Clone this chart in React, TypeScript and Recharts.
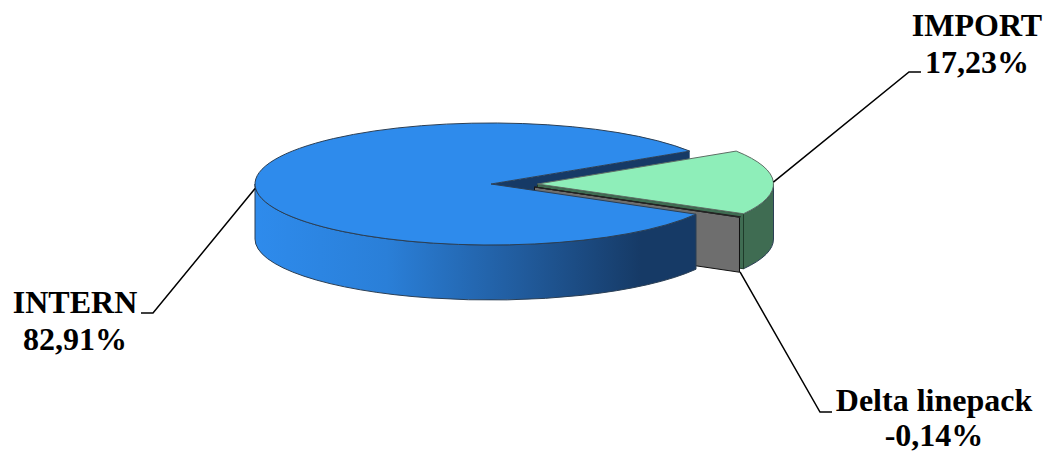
import { Pie, PieChart } from "recharts"

const categories = ["INTERN", "IMPORT", "Delta linepack"]
const values = [82.91, 17.23, -0.14]

const data = categories.map((name, i) => ({ name, value: values[i], share: Math.abs(values[i]) }))

// 3D look
const TILT = 0.2585
const DEPTH = 55
const BLUE = "#2e8bec"
const BLUE_DARK = "#163a66"
const GREEN = "#8eeeb9"
const GREEN_DARK = "#3f6c52"
const GREY = "#6e6e6e"
const EDGE = "#2b3f55"

// exploded slices, px
const explodeX = [0, 46.5, 43.5]
const explodeY = [0, 0, 3]

// leader elbow + end, then text centre, first baseline and line gap
const elbows = [[153, 313, 141], [909, 72, 921], [820, 412, 832]]
const textPos = [[75, 313, 37], [977, 36, 37], [934, 411, 35]]

const rad = (a: number) => (a * Math.PI) / 180

function pt(p: any, i: number, a: number, dy = 0) {
  return [
    p.cx + explodeX[i] + p.outerRadius * Math.cos(rad(a)),
    p.cy + explodeY[i] - p.outerRadius * TILT * Math.sin(rad(a)) + dy,
  ]
}

function arc(p: any, to: number[], sweep: number, large = 0) {
  return `A${p.outerRadius} ${p.outerRadius * TILT} 0 ${large} ${sweep} ${to[0]} ${to[1]}`
}

function top(p: any, i: number) {
  const a = pt(p, i, p.startAngle)
  const b = pt(p, i, p.endAngle)
  const large = Math.abs(p.endAngle - p.startAngle) > 180 ? 1 : 0
  const ax = p.cx + explodeX[i]
  const ay = p.cy + explodeY[i]
  return `M${ax} ${ay}L${a[0]} ${a[1]}${arc(p, b, 1, large)}Z`
}

function face(p: any, i: number, angle: number) {
  const ax = p.cx + explodeX[i]
  const ay = p.cy + explodeY[i]
  const o = pt(p, i, angle)
  return `M${ax} ${ay}L${o[0]} ${o[1]}L${o[0]} ${o[1] + DEPTH}L${ax} ${ay + DEPTH}Z`
}

function wall(p: any, i: number, from: number, to: number) {
  const a = pt(p, i, from)
  const b = pt(p, i, to)
  const c = pt(p, i, to, DEPTH)
  const d = pt(p, i, from, DEPTH)
  return `M${a[0]} ${a[1]}${arc(p, b, 1)}L${c[0]} ${c[1]}${arc(p, d, 0)}Z`
}

// back pass: what sits behind the front of the big slice
function BackShape(p: any) {
  const i = p.index
  if (i === 0) return <path d={face(p, 0, p.endAngle)} fill={BLUE_DARK} />
  if (i === 1) {
    return (
      <g>
        <path d={wall(p, 1, 0, p.endAngle)} fill={GREEN_DARK} stroke={EDGE} strokeWidth={1} />
        <path d={face(p, 1, p.endAngle)} fill={GREEN_DARK} stroke="#1f3a2a" strokeWidth={1} />
        <path d={top(p, 1)} fill={GREEN} stroke="#5f6f66" strokeWidth={1} />
      </g>
    )
  }
  return <path d={face(p, 2, p.endAngle)} fill={GREY} stroke="#111" strokeWidth={1} />
}

// front pass
function FrontShape(p: any) {
  const i = p.index
  if (i === 0) {
    return (
      <g>
        <defs>
          <linearGradient id="blueWall" gradientUnits="userSpaceOnUse" x1={255} x2={694} y1={0} y2={0}>
            <stop offset="0%" stopColor={BLUE} />
            <stop offset="30%" stopColor="#2a7fd8" />
            <stop offset="60%" stopColor="#215c9e" />
            <stop offset="88%" stopColor={BLUE_DARK} />
            <stop offset="100%" stopColor={BLUE_DARK} />
          </linearGradient>
        </defs>
        <path d={wall(p, 0, p.startAngle, -180)} fill="url(#blueWall)" stroke={EDGE} strokeWidth={1} />
        <path d={top(p, 0)} fill={BLUE} stroke={EDGE} strokeWidth={1} />
      </g>
    )
  }
  if (i === 2) return <path d={top(p, 2)} fill={GREY} stroke="#222" strokeWidth={1} />
  return <g />
}

function renderLabel(p: any) {
  const i = p.index
  const start = pt(p, i, p.midAngle, i === 2 ? DEPTH : i === 0 ? 3 : 0)
  const [ex, ey, endX] = elbows[i]
  const [tx, ty, gap] = textPos[i]
  const pct = values[i].toFixed(2).replace(".", ",") + "%"
  return (
    <g>
      <polyline points={`${start[0]},${start[1]} ${ex},${ey} ${endX},${ey}`} fill="none" stroke="#000" strokeWidth={1.5} />
      <text x={tx} y={ty} textAnchor="middle" fontFamily="Liberation Serif" fontWeight="bold" fontSize={32} fill="#000">
        {categories[i]}
      </text>
      <text x={tx} y={ty + gap} textAnchor="middle" fontFamily="Liberation Serif" fontWeight="bold" fontSize={32} fill="#000">
        {pct}
      </text>
    </g>
  )
}

export default function App() {
  return (
    <div style={{ position: "absolute", left: 0, top: 0, width: 1045, height: 453, background: "#fff" }}>
      <PieChart width={1045} height={453} margin={{ top: 0, right: 0, bottom: 0, left: 0 }}>
        <Pie
          data={data}
          dataKey="share"
          nameKey="name"
          cx={491}
          cy={184}
          outerRadius={236}
          startAngle={-29.7}
          endAngle={-389.7}
          shape={BackShape}
          isAnimationActive={false}
        />
        <Pie
          data={data}
          dataKey="share"
          nameKey="name"
          cx={491}
          cy={184}
          outerRadius={236}
          startAngle={-29.7}
          endAngle={-389.7}
          shape={FrontShape}
          label={renderLabel}
          labelLine={false}
          isAnimationActive={false}
        />
      </PieChart>
    </div>
  )
}
